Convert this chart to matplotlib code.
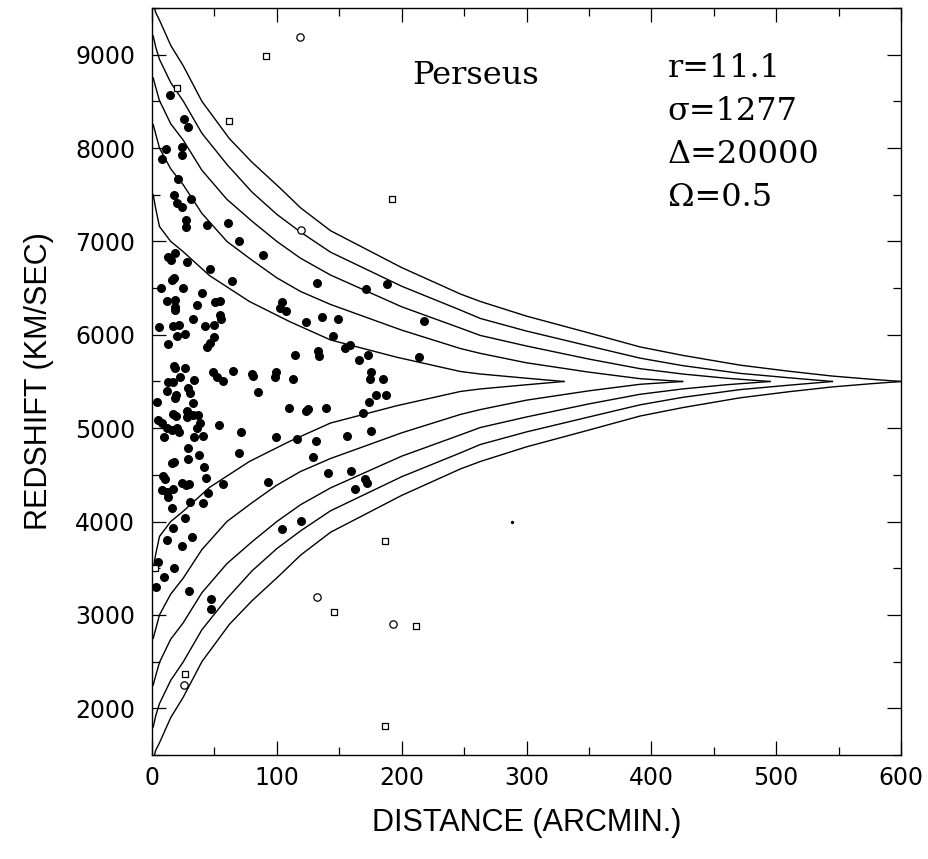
import numpy as np
import matplotlib
matplotlib.use("Agg")
import matplotlib.pyplot as plt
from matplotlib.ticker import MultipleLocator

# caustic centre (km/s)
v_center = 5500

# caustic amplitudes: (distance in arcmin, amplitude in km/s)
c1_x = [1, 3, 6, 15, 25, 46, 78, 110, 143, 196, 247, 263, 300, 330]
c1_a = [2000, 1850, 1660, 1500, 1390, 1135, 857, 643, 445, 260, 107, 80, 35, 0]

c2_x = [1, 3, 6, 15, 25, 40, 60, 80, 100, 119, 143, 200, 247, 263, 300, 350, 391, 425]
c2_a = [2750, 2650, 2500, 2277, 2107, 1800, 1500, 1300, 1110, 964, 825, 550, 353, 301, 200, 100, 30, 0]

c3_x = [1, 3, 6, 15, 25, 40, 60, 80, 100, 119, 143, 200, 247, 263, 300, 350, 391, 425, 460, 495]
c3_a = [3250, 3150, 3008, 2760, 2585, 2262, 1951, 1718, 1500, 1320, 1140, 800, 572, 493, 380, 240, 137, 80, 35, 0]

c4_x = [1, 3, 6, 15, 25, 40, 60, 80, 100, 119, 143, 200, 247, 263, 300, 350, 391, 425, 471, 510, 545]
c4_a = [3700, 3580, 3450, 3201, 3004, 2658, 2325, 2030, 1790, 1600, 1385, 1020, 765, 675, 540, 380, 250, 170, 87, 40, 0]

c5_x = [1, 3, 6, 15, 25, 40, 62, 80, 103, 119, 143, 200, 247, 263, 300, 350, 391, 425, 471, 510, 545, 575, 600]
c5_a = [4050, 3950, 3870, 3600, 3382, 3000, 2601, 2350, 2066, 1860, 1615, 1220, 937, 857, 700, 520, 370, 280, 175, 110, 58, 25, 0]

# cluster members (filled symbols)
member_x = [14.4, 25.9, 28.6, 11.2, 23.8, 23.8, 7.8, 20.6, 17.6, 19.8, 23.8, 31.0, 27.0, 27.0, 43.8, 61.1, 69.7,
            89.2, 13.1, 18.4, 15.0, 27.8, 46.5, 63.9, 132, 15.8, 17.9, 7.0, 25.1, 39.8, 11.8, 18.4, 18.4, 18.4,
            36.3, 50.5, 54.5, 103.9, 102.6, 107.1, 54.5, 55.3, 33.1, 42.5, 49.7, 5.6, 17.1, 21.9, 123.4, 136.5,
            145.3, 19.8, 26.4, 13.1, 49.7, 46.5, 43.8, 114.8, 132.8, 134, 17.9, 18.4, 26.4, 48.6, 51.8, 56.7,
            64.7, 79.9, 81.2, 99.4, 98.3, 113.2, 85.2, 13.1, 17.1, 22.4, 11.8, 29.1, 30.4, 33.9, 18.4, 19.2,
            3.8, 32.6, 17.1, 19.2, 27.8, 27.8, 32.6, 37.1, 38.5, 36.3, 5.0, 7.8, 11.8, 15.8, 19.8, 21.9, 53.9,
            109.8, 123.4, 124.8, 139.2, 71.3, 99.4, 115.9, 131.4, 9.6, 33.9, 41.1, 28.6, 37.9, 69.5, 129.2,
            15.8, 17.9, 29.1, 41.7, 141.3, 9.1, 10.4, 43.0, 23.8, 29.9, 27.2, 56.7, 93.2, 7.8, 11.8, 17.1, 45.1,
            12.6, 30.4, 40.6, 15.8, 26.4, 17.1, 11.8, 31.8, 23.8, 103.9, 119.2, 5.0, 17.6, 9.6, 3.2, 29.9,
            47.3, 47.3, 171.2, 188.5, 218.2, 149.3, 154.6, 158.7, 166.1, 172.8, 213.9, 175.2, 174.7, 185.3,
            179.5, 187.7, 173.9, 169.3, 175.2, 156.6, 159.5, 170.7, 172, 162.7]
member_v = [8565, 8308, 8226, 7987, 8016, 7930, 7887, 7673, 7494, 7416, 7370, 7459, 7227, 7156, 7174, 7192, 7004,
            6853, 6835, 6871, 6799, 6782, 6703, 6574, 6550, 6585, 6603, 6496, 6504, 6450, 6360, 6371, 6300, 6264,
            6318, 6354, 6360, 6346, 6282, 6258, 6211, 6168, 6168, 6097, 6104, 6086, 6097, 6104, 6140, 6193,
            5990, 5990, 6004, 5897, 5972, 5908, 5872, 5783, 5825, 5776, 5669, 5640, 5648, 5597, 5551, 5509,
            5616, 5579, 5558, 5597, 5551, 5526, 5383, 5498, 5490, 5551, 5397, 5434, 5373, 5515, 5319, 5355,
            5276, 5266, 5151, 5130, 5183, 5123, 5140, 5140, 5059, 4998, 5087, 5052, 4998, 4980, 4998, 4963, 5034,
            5220, 5183, 5201, 5212, 4963, 4902, 4884, 4867, 4902, 4902, 4920, 4792, 4713, 4731, 4695,
            4624, 4642, 4667, 4588, 4517, 4492, 4456, 4471, 4410, 4402, 4392, 4402, 4428, 4338, 4321, 4349, 4303,
            4267, 4206, 4203, 4150, 4043, 3936, 3803, 3832, 3743, 3921, 4006, 3572, 3500, 3404, 3294, 3251,
            3169, 3065, 6489, 6542, 6146, 6168, 5862, 5890, 5729, 5779, 5758, 5605, 5522, 5522,
            5355, 5355, 5276, 5159, 4974, 4918, 4538, 4452, 4410, 4349]

# non-members: open squares and open circles
sq_x = [91.3, 20.0, 61.7, 192.3, 186.7, 145.8, 211.5, 186.4, 26.4, 2.4]
sq_v = [8989, 8647, 8294, 7459, 3792, 3029, 2880, 1813, 2366, 3500]
circ_x = [118.6, 119.4, 132.5, 193.4, 25.9]
circ_v = [9193, 7117, 3190, 2904, 2253]
stray_x = [288.5]
stray_v = [3992]

params = ["r=11.1", "σ=1277", "Δ=20000", "Ω=0.5"]

fig = plt.figure(figsize=(9.29, 8.59), dpi=100)
ax = fig.add_axes([0.1636, 0.1211, 0.8063, 0.8696])

for cx, ca in [(c1_x, c1_a), (c2_x, c2_a), (c3_x, c3_a), (c4_x, c4_a), (c5_x, c5_a)]:
    cx = np.array(cx)
    ca = np.array(ca)
    ax.plot(cx, v_center + ca, color="black", lw=1.0)
    ax.plot(cx, v_center - ca, color="black", lw=1.0)

ax.scatter(member_x, member_v, s=30, color="black", marker="o", zorder=3)
ax.scatter(sq_x, sq_v, s=24, facecolors="white", edgecolors="black", marker="s", linewidths=0.9, zorder=3)
ax.scatter(circ_x, circ_v, s=28, facecolors="white", edgecolors="black", marker="o", linewidths=0.9, zorder=3)
ax.scatter(stray_x, stray_v, s=2, color="black", zorder=3)

ax.set_xlim(0, 600)
ax.set_ylim(1500, 9500)
ax.xaxis.set_major_locator(MultipleLocator(100))
ax.xaxis.set_minor_locator(MultipleLocator(50))
ax.yaxis.set_major_locator(MultipleLocator(1000))
ax.yaxis.set_minor_locator(MultipleLocator(500))
ax.set_yticks(np.arange(2000, 9001, 1000))
ax.tick_params(which="both", direction="in", top=True, right=True, width=0.9)
ax.tick_params(which="major", length=10, labelsize=17, pad=8)
ax.tick_params(which="minor", length=6)
ax.tick_params(axis="y", which="major", pad=12)
for lab in ax.get_xticklabels() + ax.get_yticklabels():
    lab.set_family("DejaVu Sans")
for sp in ax.spines.values():
    sp.set_linewidth(1.0)

ax.set_xlabel("DISTANCE (ARCMIN.)", fontsize=22, family="Liberation Sans", labelpad=13)
ax.set_ylabel("REDSHIFT (KM/SEC)", fontsize=22, family="Liberation Sans", labelpad=15)

ax.text(259, 8775, "Perseus", fontsize=23, family="DejaVu Serif", ha="center", va="center")
for i, p in enumerate(params):
    ax.text(413, 8850 - i * 460, p, fontsize=23, family="DejaVu Serif", ha="left", va="center")

fig.savefig("out.png", dpi=100)
